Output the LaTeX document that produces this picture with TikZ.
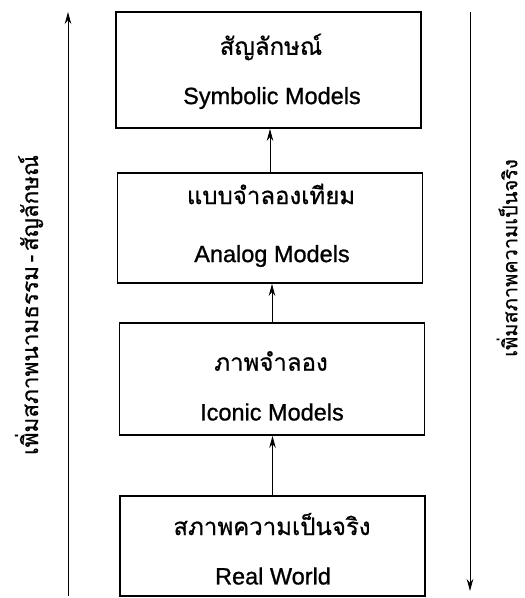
\documentclass[tikz,border=0pt]{standalone}
\usepackage{fontspec}
\setmainfont{Liberation Sans}
\newfontfamily\thaifont[Script=Thai,FakeBold=0.7]{Loma}
\newfontfamily\enfont[FakeBold=1.0]{Liberation Sans}
\usetikzlibrary{arrows.meta}
\tikzset{
  box/.style={draw, line width=1.8pt, minimum width=305pt, inner sep=0pt},
  th/.style={font=\thaifont\fontsize{24}{26}\selectfont, inner sep=0pt},
  en/.style={font=\enfont\fontsize{23.5}{26}\selectfont, inner sep=0pt},
  conn/.style={line width=0.8pt, -{Stealth[length=12pt,width=6.5pt]}},
  side/.style={font=\thaifont\fontsize{22.5}{24}\selectfont, inner sep=0pt, rotate=90}
}
\begin{document}
\begin{tikzpicture}[x=1pt,y=-1pt]
\useasboundingbox (0,0) rectangle (525,598);
\node[box, minimum height=116pt] (b1) at (268.5,70) {};
\node[box, minimum height=110pt] (b2) at (270,228) {};
\node[box, minimum height=112pt] (b3) at (272,379) {};
\node[box, minimum height=100pt] (b4) at (272.5,546) {};
\node[th] (t1) at (271,47) {สัญลักษณ์};
\node[en] (e1) at (272,98) {Symbolic Models};
\node[th] (t2) at (271,194) {แบบจำลองเทียม};
\node[en] (e2) at (272,256) {Analog Models};
\node[th] (t3) at (271,361) {ภาพจำลอง};
\node[en] (e3) at (272,412) {Iconic Models};
\node[th] (t4) at (272,524) {สภาพความเป็นจริง};
\node[en] (e4) at (273,576) {Real World};
\draw[conn] (b2.north) -- (b2.north |- b1.south);
\draw[conn] (b3.north) -- (b3.north |- b2.south);
\draw[conn] (b4.north) -- (b4.north |- b3.south);
\coordinate (l0) at (68,596);
\coordinate (l1) at (68,12);
\coordinate (r0) at (470,12);
\coordinate (r1) at (470,591);
\draw[conn] (l0) -- (l1);
\draw[conn] (r0) -- (r1);
\node[side] (ls) at (29,305) {เพิ่มสภาพนามธรรม\,-\,สัญลักษณ์};
\node[side, font=\thaifont\fontsize{20}{22}\selectfont] (rs) at (507,258) {เพิ่มสภาพความเป็นจริง};
\end{tikzpicture}
\end{document}
